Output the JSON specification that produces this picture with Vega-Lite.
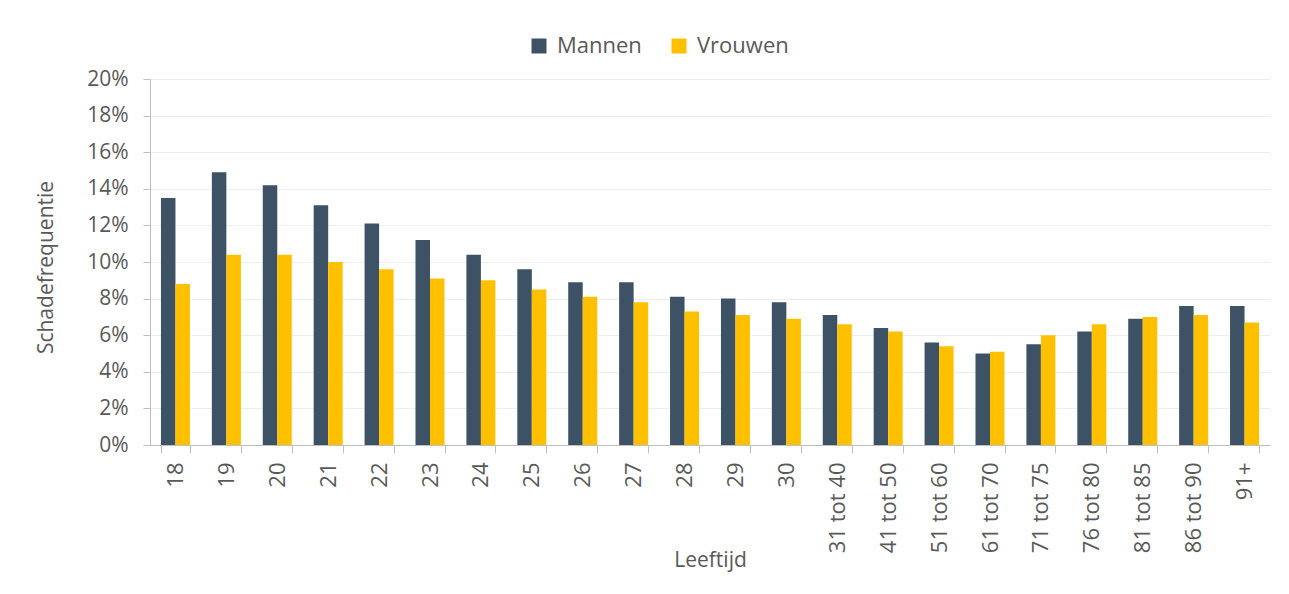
{
  "$schema": "https://vega.github.io/schema/vega-lite/v6.json",
  "autosize": {"type": "none"},
  "width": 1120,
  "height": 366,
  "padding": {"left": 150, "top": 79, "right": 19, "bottom": 149},
  "background": "white",
  "config": {
    "view": {"stroke": null},
    "font": "Open Sans",
    "axis": {"labelColor": "#595959", "titleColor": "#595959", "labelFont": "Open Sans", "titleFont": "Open Sans", "titleFontWeight": "normal"},
    "legend": {"labelColor": "#595959", "labelFont": "Open Sans"}
  },
  "data": {
    "values": [
      {"leeftijd": "18", "geslacht": "Mannen", "freq": 13.5},
      {"leeftijd": "18", "geslacht": "Vrouwen", "freq": 8.8},
      {"leeftijd": "19", "geslacht": "Mannen", "freq": 14.9},
      {"leeftijd": "19", "geslacht": "Vrouwen", "freq": 10.4},
      {"leeftijd": "20", "geslacht": "Mannen", "freq": 14.2},
      {"leeftijd": "20", "geslacht": "Vrouwen", "freq": 10.4},
      {"leeftijd": "21", "geslacht": "Mannen", "freq": 13.1},
      {"leeftijd": "21", "geslacht": "Vrouwen", "freq": 10.0},
      {"leeftijd": "22", "geslacht": "Mannen", "freq": 12.1},
      {"leeftijd": "22", "geslacht": "Vrouwen", "freq": 9.6},
      {"leeftijd": "23", "geslacht": "Mannen", "freq": 11.2},
      {"leeftijd": "23", "geslacht": "Vrouwen", "freq": 9.1},
      {"leeftijd": "24", "geslacht": "Mannen", "freq": 10.4},
      {"leeftijd": "24", "geslacht": "Vrouwen", "freq": 9.0},
      {"leeftijd": "25", "geslacht": "Mannen", "freq": 9.6},
      {"leeftijd": "25", "geslacht": "Vrouwen", "freq": 8.5},
      {"leeftijd": "26", "geslacht": "Mannen", "freq": 8.9},
      {"leeftijd": "26", "geslacht": "Vrouwen", "freq": 8.1},
      {"leeftijd": "27", "geslacht": "Mannen", "freq": 8.9},
      {"leeftijd": "27", "geslacht": "Vrouwen", "freq": 7.8},
      {"leeftijd": "28", "geslacht": "Mannen", "freq": 8.1},
      {"leeftijd": "28", "geslacht": "Vrouwen", "freq": 7.3},
      {"leeftijd": "29", "geslacht": "Mannen", "freq": 8.0},
      {"leeftijd": "29", "geslacht": "Vrouwen", "freq": 7.1},
      {"leeftijd": "30", "geslacht": "Mannen", "freq": 7.8},
      {"leeftijd": "30", "geslacht": "Vrouwen", "freq": 6.9},
      {"leeftijd": "31 tot 40", "geslacht": "Mannen", "freq": 7.1},
      {"leeftijd": "31 tot 40", "geslacht": "Vrouwen", "freq": 6.6},
      {"leeftijd": "41 tot 50", "geslacht": "Mannen", "freq": 6.4},
      {"leeftijd": "41 tot 50", "geslacht": "Vrouwen", "freq": 6.2},
      {"leeftijd": "51 tot 60", "geslacht": "Mannen", "freq": 5.6},
      {"leeftijd": "51 tot 60", "geslacht": "Vrouwen", "freq": 5.4},
      {"leeftijd": "61 tot 70", "geslacht": "Mannen", "freq": 5.0},
      {"leeftijd": "61 tot 70", "geslacht": "Vrouwen", "freq": 5.1},
      {"leeftijd": "71 tot 75", "geslacht": "Mannen", "freq": 5.5},
      {"leeftijd": "71 tot 75", "geslacht": "Vrouwen", "freq": 6.0},
      {"leeftijd": "76 tot 80", "geslacht": "Mannen", "freq": 6.2},
      {"leeftijd": "76 tot 80", "geslacht": "Vrouwen", "freq": 6.6},
      {"leeftijd": "81 tot 85", "geslacht": "Mannen", "freq": 6.9},
      {"leeftijd": "81 tot 85", "geslacht": "Vrouwen", "freq": 7.0},
      {"leeftijd": "86 tot 90", "geslacht": "Mannen", "freq": 7.6},
      {"leeftijd": "86 tot 90", "geslacht": "Vrouwen", "freq": 7.1},
      {"leeftijd": "91+", "geslacht": "Mannen", "freq": 7.6},
      {"leeftijd": "91+", "geslacht": "Vrouwen", "freq": 6.7}
    ]
  },
  "mark": {"type": "bar"},
  "encoding": {
    "x": {
      "field": "leeftijd",
      "type": "nominal",
      "sort": null,
      "scale": {"paddingInner": 0.43, "paddingOuter": 0.215},
      "axis": {
        "title": "Leeftijd",
        "titleFontSize": 21,
        "titleY": 115,
        "titleBaseline": "middle",
        "labelAngle": -90,
        "labelFontSize": 22,
        "labelPadding": 9,
        "tickBand": "extent",
        "tickSize": 8,
        "tickColor": "#BFBFBF",
        "domainColor": "#BFBFBF",
        "grid": false
      }
    },
    "xOffset": {"field": "geslacht", "type": "nominal", "sort": ["Mannen", "Vrouwen"], "scale": {"paddingInner": 0, "paddingOuter": 0}},
    "y": {
      "field": "freq",
      "type": "quantitative",
      "scale": {"domain": [0, 20], "nice": false},
      "axis": {
        "title": "Schadefrequentie",
        "titleFontSize": 21,
        "titleX": -104,
        "titleY": 188,
        "titleBaseline": "middle",
        "titleAlign": "center",
        "titleAngle": -90,
        "values": [0, 2, 4, 6, 8, 10, 12, 14, 16, 18, 20],
        "labelExpr": "datum.value + '%'",
        "labelFontSize": 21,
        "labelPadding": 15,
        "tickSize": 7,
        "tickColor": "#BFBFBF",
        "domainColor": "#BFBFBF",
        "gridColor": "#EEEEEE",
        "gridWidth": 1
      }
    },
    "color": {
      "field": "geslacht",
      "type": "nominal",
      "sort": ["Mannen", "Vrouwen"],
      "scale": {"domain": ["Mannen", "Vrouwen"], "range": ["#3D5365", "#FFC000"]},
      "legend": {
        "title": null,
        "orient": "none",
        "direction": "horizontal",
        "legendX": 378,
        "legendY": -44,
        "symbolType": "square",
        "symbolSize": 225,
        "symbolStrokeWidth": 0,
        "symbolOpacity": 1,
        "labelFontSize": 22,
        "labelOffset": 7,
        "columnPadding": 26,
        "padding": 0
      }
    }
  }
}
